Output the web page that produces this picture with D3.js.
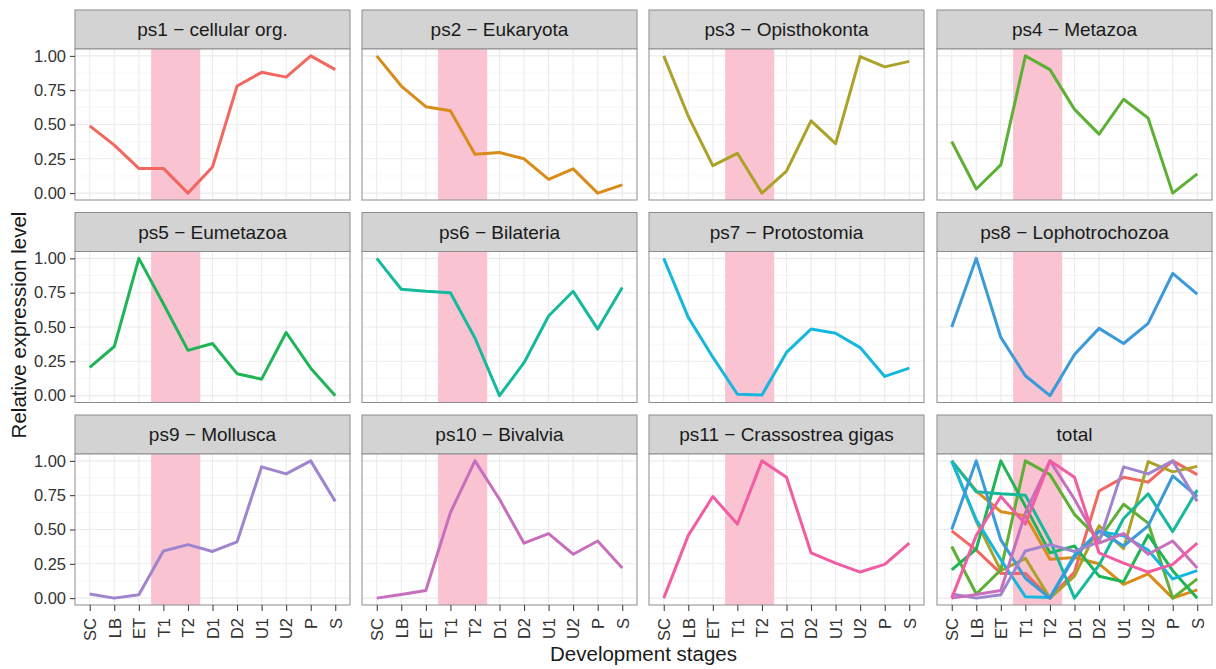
<!DOCTYPE html>
<html>
<head>
<meta charset="utf-8">
<script src="https://cdn.jsdelivr.net/npm/d3@7"></script>
<style>
  html, body { margin: 0; padding: 0; background: #ffffff; }
  svg { display: block; font-family: "Liberation Sans", Arial, sans-serif; }
</style>
</head>
<body>
<svg id="chart" width="1216" height="669"></svg>
<script>
// ---- data ----
const stages = ["SC", "LB", "ET", "T1", "T2", "D1", "D2", "U1", "U2", "P", "S"];
const highlightStages = ["T1", "T2"];
const panelTitles = [
  "ps1 \u2212 cellular org.", "ps2 \u2212 Eukaryota", "ps3 \u2212 Opisthokonta", "ps4 \u2212 Metazoa",
  "ps5 \u2212 Eumetazoa", "ps6 \u2212 Bilateria", "ps7 \u2212 Protostomia", "ps8 \u2212 Lophotrochozoa",
  "ps9 \u2212 Mollusca", "ps10 \u2212 Bivalvia", "ps11 \u2212 Crassostrea gigas", "total"
];
const ps1  = [0.49, 0.35, 0.18, 0.18, 0.00, 0.19, 0.78, 0.88, 0.845, 1.00, 0.90];
const ps2  = [1.00, 0.78, 0.63, 0.60, 0.284, 0.296, 0.25, 0.10, 0.177, 0.00, 0.06];
const ps3  = [1.00, 0.56, 0.20, 0.29, 0.00, 0.16, 0.527, 0.36, 0.995, 0.92, 0.96];
const ps4  = [0.376, 0.03, 0.206, 1.00, 0.90, 0.61, 0.43, 0.684, 0.546, 0.00, 0.14];
const ps5  = [0.206, 0.358, 1.00, 0.67, 0.33, 0.38, 0.16, 0.12, 0.46, 0.20, 0.00];
const ps6  = [1.00, 0.775, 0.76, 0.75, 0.42, 0.00, 0.24, 0.58, 0.76, 0.485, 0.787];
const ps7  = [1.00, 0.57, 0.28, 0.01, 0.005, 0.315, 0.485, 0.455, 0.35, 0.14, 0.20];
const ps8  = [0.50, 1.00, 0.424, 0.145, 0.00, 0.30, 0.49, 0.38, 0.527, 0.89, 0.74];
const ps9  = [0.03, 0.00, 0.025, 0.343, 0.39, 0.34, 0.41, 0.956, 0.905, 1.00, 0.705];
const ps10 = [0.00, 0.027, 0.056, 0.623, 1.00, 0.72, 0.40, 0.47, 0.32, 0.416, 0.22];
const ps11 = [0.00, 0.457, 0.74, 0.54, 1.00, 0.88, 0.33, 0.255, 0.19, 0.246, 0.40];
const seriesList = [ps1, ps2, ps3, ps4, ps5, ps6, ps7, ps8, ps9, ps10, ps11];
const seriesColors = ["#F2675F", "#D98C1A", "#ACA22A", "#5EB035", "#1FB556", "#16B99C",
                      "#16B7DE", "#3A9ADA", "#9F84CE", "#C76FBC", "#F15CA2"];
const yTicks = [0, 0.25, 0.5, 0.75, 1];
const yMinor = [0.125, 0.375, 0.625, 0.875];
const yLabel = "Relative expression level";
const xLabel = "Development stages";

// ---- layout ----
const svg = d3.select("#chart");
const colX = [75, 362, 649, 937];
const rowY = [10, 212.5, 415];
const panelW = 275, stripH = 39, plotH = 151;

const x = d3.scalePoint().domain(stages).range([0, panelW]).padding(0.6);
const step = x.step();
const y = d3.scaleLinear().domain([-0.05, 1.05]).range([plotH, 0]);
const line = d3.line().x((d, i) => x(stages[i])).y(d => y(d));

panelTitles.forEach((title, idx) => {
  const r = Math.floor(idx / 4), c = idx % 4;
  const g = svg.append("g").attr("transform", `translate(${colX[c]},${rowY[r]})`);

  // strip
  g.append("rect").attr("x", 0).attr("y", 0).attr("width", panelW).attr("height", stripH)
    .attr("fill", "#D3D3D3").attr("stroke", "#8c8c8c").attr("stroke-width", 1);
  g.append("text").attr("x", panelW / 2).attr("y", stripH / 2).attr("dy", "0.36em")
    .attr("text-anchor", "middle").attr("font-size", 19).attr("fill", "#1a1a1a").text(title);

  const p = g.append("g").attr("transform", `translate(0,${stripH})`);
  p.append("rect").attr("width", panelW).attr("height", plotH).attr("fill", "#fff");

  // grid
  p.selectAll(".ymin").data(yMinor).join("line")
    .attr("x1", 0).attr("x2", panelW).attr("y1", d => y(d)).attr("y2", d => y(d))
    .attr("stroke", "#F2F2F2").attr("stroke-width", 0.6);
  p.selectAll(".ymaj").data(yTicks).join("line")
    .attr("x1", 0).attr("x2", panelW).attr("y1", d => y(d)).attr("y2", d => y(d))
    .attr("stroke", "#EBEBEB").attr("stroke-width", 1.1);
  p.selectAll(".xmaj").data(stages).join("line")
    .attr("x1", d => x(d)).attr("x2", d => x(d)).attr("y1", 0).attr("y2", plotH)
    .attr("stroke", "#EBEBEB").attr("stroke-width", 1.1);

  // highlight band
  const bx0 = x(highlightStages[0]) - step / 2;
  const bx1 = x(highlightStages[1]) + step / 2;
  p.append("rect").attr("x", bx0).attr("y", 0).attr("width", bx1 - bx0).attr("height", plotH)
    .attr("fill", "#F9C3D1");

  // lines
  const idxs = idx < 11 ? [idx] : d3.range(11);
  idxs.forEach(k => {
    p.append("path").datum(seriesList[k]).attr("d", line)
      .attr("fill", "none").attr("stroke", seriesColors[k]).attr("stroke-width", 3)
      .attr("stroke-linejoin", "round");
  });

  // border
  p.append("rect").attr("width", panelW).attr("height", plotH)
    .attr("fill", "none").attr("stroke", "#8c8c8c").attr("stroke-width", 1);

  // axes
  if (c === 0) {
    const ya = p.append("g").call(d3.axisLeft(y).tickValues(yTicks)
      .tickFormat(d3.format(".2f")).tickSize(5).tickPadding(4));
    ya.select(".domain").remove();
    ya.selectAll("line").attr("stroke", "#333");
    ya.selectAll("text").attr("font-size", 16.5).attr("fill", "#333")
      .attr("font-family", "Liberation Sans, Arial, sans-serif");
  }
  if (r === 2) {
    const xa = p.append("g").attr("transform", `translate(0,${plotH})`)
      .call(d3.axisBottom(x).tickSize(6).tickPadding(7));
    xa.select(".domain").remove();
    xa.selectAll("line").attr("stroke", "#333");
    xa.selectAll("text").attr("font-size", 16.5).attr("fill", "#333")
      .attr("font-family", "Liberation Sans, Arial, sans-serif")
      .attr("transform", "rotate(-90)").attr("text-anchor", "end")
      .attr("x", -13).attr("y", 0).attr("dy", "0.35em");
  }
});

// axis titles
svg.append("text").attr("x", 643.5).attr("y", 661).attr("text-anchor", "middle")
  .attr("font-size", 20.5).attr("fill", "#1a1a1a").text(xLabel);
svg.append("text").attr("transform", "translate(26,325) rotate(-90)").attr("text-anchor", "middle")
  .attr("font-size", 20.5).attr("fill", "#1a1a1a").text(yLabel);
</script>
</body>
</html>
